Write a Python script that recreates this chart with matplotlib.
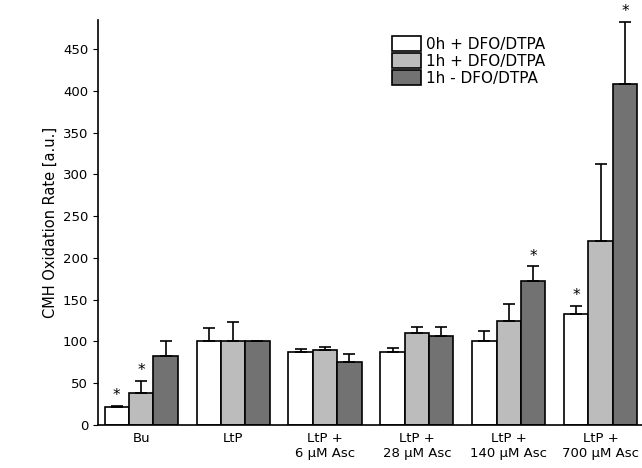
import numpy as np
import matplotlib.pyplot as plt

groups = ['Bu', 'LtP', 'LtP +\n6 µM Asc', 'LtP +\n28 µM Asc', 'LtP +\n140 µM Asc', 'LtP +\n700 µM Asc']
labels = ['0h + DFO/DTPA', '1h + DFO/DTPA', '1h - DFO/DTPA']
vals0 = [22, 100, 87, 87, 100, 133]
err0 = [1, 16, 4, 5, 12, 10]
vals1 = [38, 100, 90, 110, 125, 220]
err1 = [15, 23, 3, 7, 20, 93]
vals2 = [83, 100, 75, 107, 172, 408]
err2 = [17, 1, 10, 10, 18, 75]
stars = [(0, 0), (0, 1), (4, 2), (5, 0), (5, 2)]

fig = plt.figure(figsize=(6.42, 4.68), dpi=100)
ax = fig.add_axes([98/642, 43/468, 1 - 98/642, 405/468])

x = np.arange(len(groups))
w = 0.265
series = [(vals0, err0, 'white'), (vals1, err1, '#bcbcbc'), (vals2, err2, '#727272')]
for k, (v, e, c) in enumerate(series):
    ax.bar(x + (k - 1) * w, v, w, yerr=[np.zeros(len(e)), e], color=c, edgecolor='black',
           linewidth=1.2, label=labels[k],
           error_kw=dict(ecolor='black', elinewidth=1.2, capsize=4, capthick=1.2))
for g, k in stars:
    v = series[k][0][g] + series[k][1][g]
    ax.text(x[g] + (k - 1) * w, v + 3, '*', ha='center', va='bottom', fontsize=11)

ax.set_xlim(-0.47, 5.45)
ax.set_ylim(0, 485)
ax.set_yticks(range(0, 451, 50))
ax.set_xticks(x)
ax.set_xticklabels(groups, fontsize=9.5)
ax.tick_params(axis='x', length=0, pad=5)
ax.tick_params(axis='y', labelsize=9.5)
ax.set_ylabel('CMH Oxidation Rate [a.u.]', fontsize=10.5)
ax.spines['top'].set_visible(False)
ax.spines['right'].set_visible(False)
for s in ['left', 'bottom']:
    ax.spines[s].set_linewidth(1.2)
ax.legend(loc='upper left', bbox_to_anchor=(0.53, 0.975), frameon=False, fontsize=11,
          handlelength=1.9, handleheight=1.1, labelspacing=0.1, handletextpad=0.3,
          borderaxespad=0.0)
fig.savefig('out.png')
